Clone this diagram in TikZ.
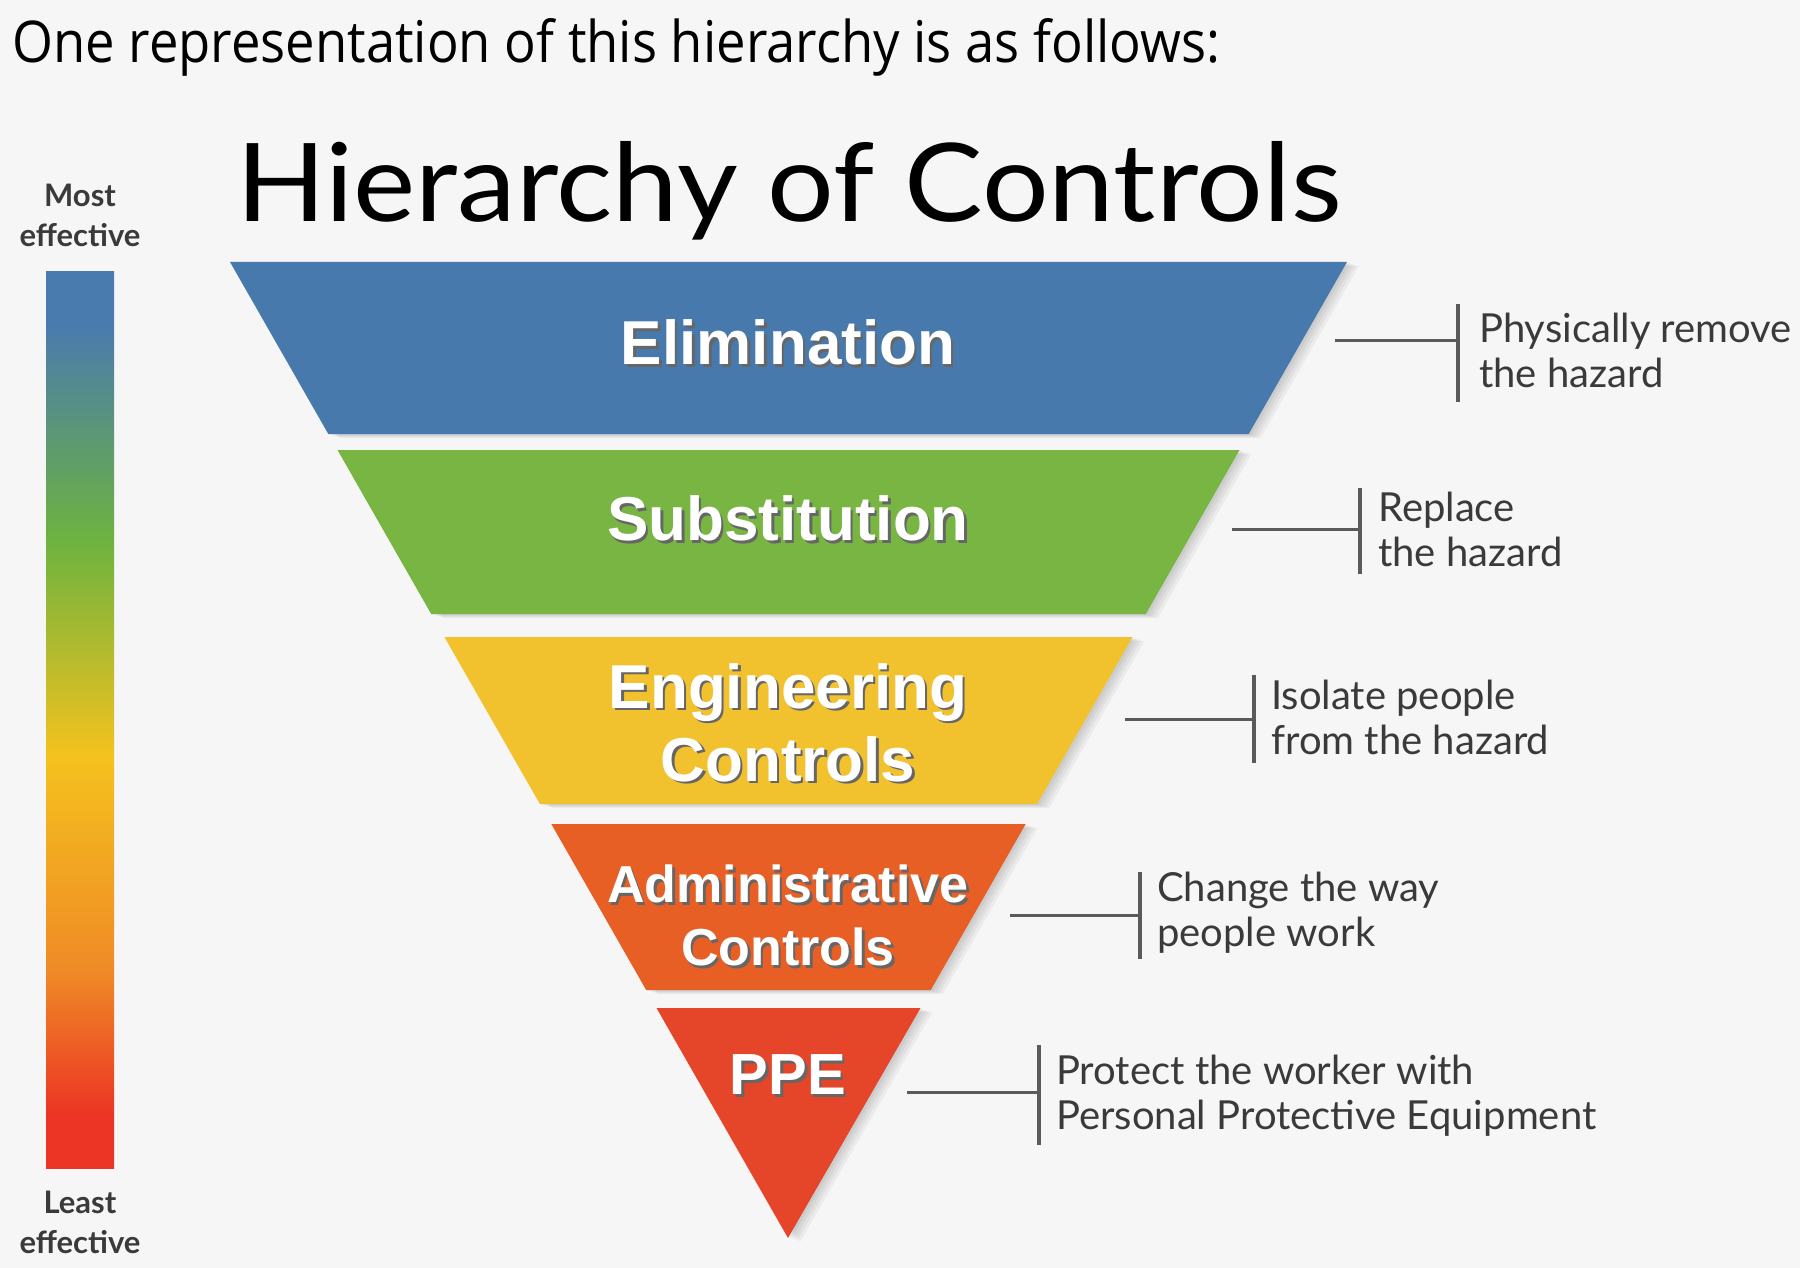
\documentclass[tikz,border=0pt]{standalone}
\usepackage{fontspec}
\setmainfont{Liberation Sans}
\newfontfamily\latofont{Lato}
\newfontfamily\opensans{Open Sans}
\usepackage{graphicx}
\definecolor{bgc}{HTML}{F6F6F6}
\definecolor{elimc}{HTML}{4779AC}
\definecolor{substc}{HTML}{78B543}
\definecolor{engc}{HTML}{F2C12E}
\definecolor{admc}{HTML}{E85F26}
\definecolor{ppec}{HTML}{E54528}
\definecolor{labgray}{HTML}{3A3A3A}
\definecolor{linegray}{HTML}{5A5A5A}
\definecolor{barblue}{HTML}{4A7BAE}
\definecolor{bargreen}{HTML}{6DB33F}
\definecolor{baryellow}{HTML}{F4C21E}
\definecolor{barorange}{HTML}{EF8A26}
\definecolor{barred}{HTML}{EC3524}
\pgfdeclareverticalshading{effbar}{100bp}{color(0bp)=(barred); color(28bp)=(barred); color(36bp)=(barorange); color(48bp)=(baryellow); color(60bp)=(bargreen); color(72bp)=(barblue); color(100bp)=(barblue)}
\newcommand{\shtext}[1]{\makebox[0pt][l]{\kern2.5pt\raisebox{-2.5pt}{\textcolor{black!60}{#1}}}#1}
\tikzset{
  bandshadow/.style={fill=black, fill opacity=0.045, draw=none},
  bandtext/.style={text=white, font=\bfseries\fontsize{62}{73}\selectfont, align=center, inner sep=0pt},
  desc/.style={anchor=west, align=left, inner sep=0pt, text=labgray, font=\latofont\fontsize{40}{45}\selectfont},
  conn/.style={draw=linegray, line width=3pt},
  bracketbar/.style={draw=linegray, line width=3.5pt},
  efftext/.style={align=center, inner sep=0pt, text=labgray, font=\latofont\bfseries\fontsize{31}{40}\selectfont}
}
\begin{document}
\begin{tikzpicture}[x=1pt,y=-1pt]
\fill[bgc] (0,0) rectangle (1800,1268);
\useasboundingbox (0,0) rectangle (1800,1268);

% intro line and title
\node[anchor=base west, inner sep=0pt] (intro) at (12,63) {\resizebox{1208pt}{44pt}{\opensans One representation of this hierarchy is as follows:}};
\node[anchor=base west, inner sep=0pt] (title) at (236,222) {\resizebox{1105pt}{80pt}{\latofont Hierarchy of Controls}};

% effectiveness bar
\shade[shading=effbar] (46,272) rectangle (114,1168);
\node[efftext] (most) at (80,215) {Most\\effective};
\node[efftext] (least) at (80,1222) {Least\\effective};

% soft shadows of the bands
\foreach \d in {3,6,9,12}{
  \begin{scope}[shift={(\d,\d/3)}]
  \fill[bandshadow] (230,262) -- (1347,262) -- (1248.7,434) -- (328.3,434) -- cycle;
  \fill[bandshadow] (337.5,450) -- (1239.5,450) -- (1145.8,614) -- (431.2,614) -- cycle;
  \fill[bandshadow] (444.4,637) -- (1132.6,637) -- (1037.1,804) -- (539.9,804) -- cycle;
  \fill[bandshadow] (551.3,824) -- (1025.7,824) -- (930.8,990) -- (646.2,990) -- cycle;
  \fill[bandshadow] (656.5,1008) -- (920.5,1008) -- (788,1238) -- cycle;
  \end{scope}
}

% bands
\fill[elimc]  (230,262) -- (1347,262) -- (1248.7,434) -- (328.3,434) -- cycle;
\fill[substc] (337.5,450) -- (1239.5,450) -- (1145.8,614) -- (431.2,614) -- cycle;
\fill[engc]   (444.4,637) -- (1132.6,637) -- (1037.1,804) -- (539.9,804) -- cycle;
\fill[admc]   (551.3,824) -- (1025.7,824) -- (930.8,990) -- (646.2,990) -- cycle;
\fill[ppec]   (656.5,1008) -- (920.5,1008) -- (788,1238) -- cycle;

% band labels
\node[bandtext] (elim) at (788,344) {\shtext{Elimination}};
\node[bandtext] (subst) at (788,520) {\shtext{Substitution}};
\node[bandtext] (eng) at (788,724) {\shtext{Engineering}\\\shtext{Controls}};
\node[bandtext, font=\bfseries\fontsize{52}{63}\selectfont] (adm) at (788,917) {\shtext{Administrative}\\\shtext{Controls}};
\node[bandtext, font=\bfseries\fontsize{58}{66}\selectfont] (ppe) at (788,1076) {\shtext{PPE}};

% descriptions
\node[desc] (d1) at (1479,350) {Physically remove\\the hazard};
\node[desc] (d2) at (1378,529) {Replace\\the hazard};
\node[desc] (d3) at (1271,717) {Isolate people\\from the hazard};
\node[desc] (d4) at (1157,913) {Change the way\\people work};
\node[desc] (d5) at (1056,1096) {Protect the worker with\\Personal Protective Equipment};

% connectors
\coordinate (c1) at (1335,340); \coordinate (b1) at (1458,340);
\coordinate (c2) at (1232,529); \coordinate (b2) at (1360,529);
\coordinate (c3) at (1125,719); \coordinate (b3) at (1254,719);
\coordinate (c4) at (1010,915); \coordinate (b4) at (1140,915);
\coordinate (c5) at (907,1092); \coordinate (b5) at (1039,1092);
\draw[conn] (c1) -- (b1);
\draw[conn] (c2) -- (b2);
\draw[conn] (c3) -- (b3);
\draw[conn] (c4) -- (b4);
\draw[conn] (c5) -- (b5);
\draw[bracketbar] (1458,304) -- (1458,402);
\draw[bracketbar] (1360,488) -- (1360,574);
\draw[bracketbar] (1254,675) -- (1254,763);
\draw[bracketbar] (1140,872) -- (1140,959);
\draw[bracketbar] (1039,1045) -- (1039,1145);
\end{tikzpicture}
\end{document}
